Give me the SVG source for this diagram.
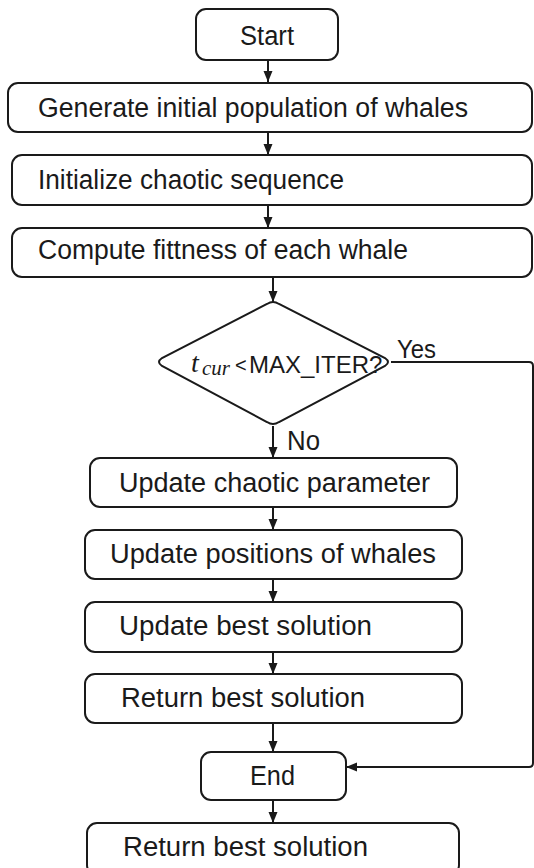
<svg xmlns="http://www.w3.org/2000/svg" width="534" height="868" viewBox="0 0 534 868">
<defs>
<marker id="arr" markerUnits="userSpaceOnUse" markerWidth="12" markerHeight="12" viewBox="0 0 12 12" refX="11" refY="6" orient="auto">
<path d="M0,1.5 L11,6 L0,10.5 Z" fill="#1a1a1a"/>
</marker>
</defs>
<style>
.box{fill:#fff;stroke:#1a1a1a;stroke-width:2}
.t{font-family:"Liberation Sans",Arial,sans-serif;font-size:27px;fill:#1a1a1a}
.lbl{font-family:"Liberation Sans",Arial,sans-serif;font-size:25px;fill:#1a1a1a}
.c{fill:none;stroke:#1a1a1a;stroke-width:2}
.m{font-family:"Liberation Serif","Times New Roman",serif;font-style:italic;fill:#1a1a1a}
</style>
<rect width="534" height="868" fill="#fff"/>
<g id="connectors">
<line class="c" x1="268" y1="60" x2="268" y2="82" marker-end="url(#arr)"/>
<line class="c" x1="268" y1="132" x2="268" y2="155" marker-end="url(#arr)"/>
<line class="c" x1="268" y1="205" x2="268" y2="228" marker-end="url(#arr)"/>
<line class="c" x1="273" y1="277" x2="273" y2="302" marker-end="url(#arr)"/>
<line class="c" x1="273" y1="426" x2="273" y2="458" marker-end="url(#arr)"/>
<line class="c" x1="273" y1="507" x2="273" y2="530" marker-end="url(#arr)"/>
<line class="c" x1="273" y1="579" x2="273" y2="602" marker-end="url(#arr)"/>
<line class="c" x1="273" y1="652" x2="273" y2="674" marker-end="url(#arr)"/>
<line class="c" x1="273" y1="723" x2="273" y2="752" marker-end="url(#arr)"/>
<line class="c" x1="273" y1="800" x2="273" y2="823" marker-end="url(#arr)"/>
<path class="c" d="M391,362 H529 Q533,362 533,366 V763 Q533,767 529,767 H346" marker-end="url(#arr)"/>
<text class="lbl" x="397" y="358" textLength="39" lengthAdjust="spacingAndGlyphs">Yes</text>
<text class="t" x="287" y="450" textLength="33" lengthAdjust="spacingAndGlyphs">No</text>
</g>
<g id="start">
<rect class="box" x="196" y="9" width="142" height="51" rx="10"/>
<text class="t" x="240" y="45" textLength="54" lengthAdjust="spacingAndGlyphs">Start</text>
</g>
<g id="generate">
<rect class="box" x="8" y="83" width="524" height="49" rx="10"/>
<text class="t" x="38" y="117" textLength="430" lengthAdjust="spacingAndGlyphs">Generate initial population of whales</text>
</g>
<g id="initialize">
<rect class="box" x="12" y="155" width="520" height="50" rx="10"/>
<text class="t" x="38" y="189" textLength="306" lengthAdjust="spacingAndGlyphs">Initialize chaotic sequence</text>
</g>
<g id="compute">
<rect class="box" x="12" y="228" width="520" height="49" rx="10"/>
<text class="t" x="38" y="259" textLength="370" lengthAdjust="spacingAndGlyphs">Compute fittness of each whale</text>
</g>
<g id="decision">
<path class="box" d="M267,304 Q273,300 279,304 L385,358 Q391,362 385,366 L279,422 Q273,426 267,422 L162,366 Q156,362 162,358 Z"/>
<text y="372" fill="#1a1a1a"><tspan class="m" x="191" style="font-size:28px">t</tspan><tspan class="m" x="202" y="375" style="font-size:21px">cur</tspan><tspan class="lbl" x="235" y="372" style="font-size:20px">&lt;</tspan><tspan class="lbl" x="249" y="373" style="font-size:24px">MAX_ITER?</tspan></text>
</g>
<g id="update-chaotic">
<rect class="box" x="90" y="458" width="367" height="49" rx="10"/>
<text class="t" x="119" y="492" textLength="311" lengthAdjust="spacingAndGlyphs">Update chaotic parameter</text>
</g>
<g id="update-positions">
<rect class="box" x="85" y="530" width="377" height="49" rx="10"/>
<text class="t" x="110" y="563" textLength="326" lengthAdjust="spacingAndGlyphs">Update positions of whales</text>
</g>
<g id="update-best">
<rect class="box" x="85" y="602" width="377" height="50" rx="10"/>
<text class="t" x="119" y="635" textLength="253" lengthAdjust="spacingAndGlyphs">Update best solution</text>
</g>
<g id="return-best">
<rect class="box" x="85" y="674" width="377" height="49" rx="10"/>
<text class="t" x="121" y="707" textLength="244" lengthAdjust="spacingAndGlyphs">Return best solution</text>
</g>
<g id="end">
<rect class="box" x="201" y="752" width="145" height="48" rx="10"/>
<text class="t" x="250" y="785" textLength="45" lengthAdjust="spacingAndGlyphs">End</text>
</g>
<g id="return-best-2">
<rect class="box" x="87" y="823" width="372" height="52" rx="10"/>
<text class="t" x="123" y="856" textLength="245" lengthAdjust="spacingAndGlyphs">Return best solution</text>
</g>
</svg>
